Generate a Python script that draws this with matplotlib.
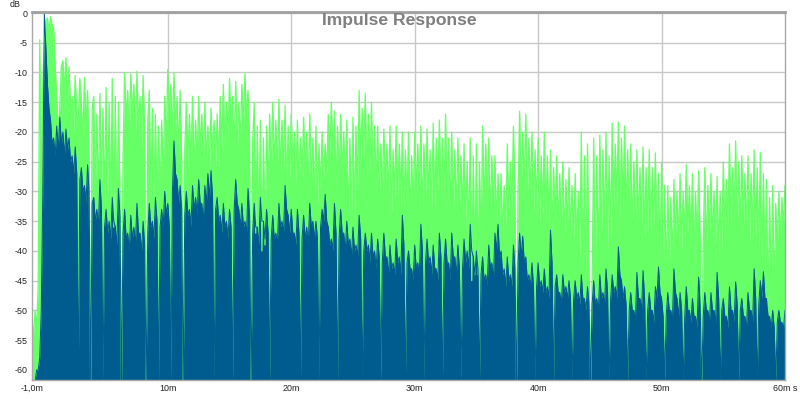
import numpy as np
import matplotlib.pyplot as plt

# samples every 0.125 ms from -1.0 ms to 60.0 ms (dB)
t0, dt = -1.0, 0.125

green_db = [
    # -1 .. 4 ms
    -52, -54, -50, -53, -46, -4.5, -30, -12, -5, -1.5, -0.8, -3, -0.6, -2, -2.5, -9, -14, -20, -16, -9,
    -8, -13, -7.5, -15, -9, -16, -14, -20, -10.5, -17, -18, -11, -15.5, -21, -10.8, -19, -13, -24, -62, -16,
    # 4 .. 9 ms
    -14, -30, -17, -32, -13.5, -29, -16, -33, -12.5, -31, -15, -34, -11, -36, -14, -38, -15, -30, -62, -24,
    -10, -18, -13, -21, -10.2, -17, -12, -22, -9.8, -19, -14, -23, -10.5, -20, -62, -18, -13, -31, -16, -32,
    # 9 .. 14 ms
    -17, -33, -19, -31, -18, -28, -14, -22, -9.5, -17, -12, -21, -10, -20, -14, -24, -13, -25, -62, -23,
    -15, -25, -17, -26, -14, -27, -18, -25, -14, -23, -17, -26, -15, -25, -19, -27, -16, -24, -18, -26,
    # 14 .. 19 ms
    -17, -26, -14, -23, -12, -22, -15, -21, -11, -20, -14, -23, -11.5, -24, -15, -22, -12, -19, -10.1, -18,
    -13, -21, -62, -22, -15, -37, -19, -38, -18, -40, -21, -39, -19, -30, -17, -28, -15, -26, -18, -27,
    # 19 .. 24 ms
    -14.5, -28, -18, -27, -15.5, -30, -19, -28, -17, -26, -20, -29, -18, -31, -21, -28, -17.5, -27, -20, -30,
    -17, -29, -21, -31, -19, -33, -22, -30, -20, -28, -22, -27, -17, -24, -15, -25, -16.5, -30, -19, -28,
    # 24 .. 29 ms
    -17, -27, -20, -29, -18, -36, -21, -35, -17.5, -35, -19, -30, -13, -25, -16, -24, -13.5, -28, -17, -27,
    -15, -30, -19, -29, -19, -33, -22, -30, -19.5, -29, -22, -31, -19, -34, -23, -31, -19, -31, -22, -32,
    # 29 .. 34 ms
    -20, -33, -23, -32, -20, -35, -24, -33, -20, -30, -22, -31, -19, -34, -22, -32, -19.5, -31, -23, -33,
    -18.5, -33, -21, -30, -18, -30, -21, -31, -17, -32, -21, -33, -20, -35, -23, -34, -21, -33, -24, -34,
    # 34 .. 39 ms
    -22, -36, -25, -38, -21, -45, -24, -44, -22, -44, -25, -40, -19, -33, -22, -32, -21, -35, -24, -33,
    -24, -36, -27, -35, -27, -38, -29, -36, -22, -34, -25, -33, -19, -31, -62, -30, -16.5, -30, -20, -29,
    # 39 .. 44 ms
    -17, -32, -21, -31, -20, -34, -23, -33, -21, -36, -24, -34, -20, -35, -24, -36, -23, -37, -26, -35,
    -24, -36, -27, -37, -25, -38, -28, -36, -26, -37, -29, -38, -27, -39, -30, -41, -20, -45, -24, -44,
    # 44 .. 49 ms
    -22, -44, -62, -45, -21, -45, -24, -43, -20.5, -38, -23, -37, -20, -40, -24, -38, -18.5, -33, -22, -32,
    -18.3, -35, -21, -33, -19, -34, -23, -35, -22, -37, -25, -36, -23, -36, -26, -35, -22.5, -38, -26, -37,
    # 49 .. 54 ms
    -23, -37, -26, -36, -23.5, -40, -27, -42, -25, -46, -29, -45, -29, -44, -31, -42, -28, -38, -30, -39,
    -27, -40, -30, -38, -25.5, -37, -29, -38, -27, -41, -30, -39, -26.5, -38, -62, -39, -26, -40, -29, -38,
    # 54 .. 59 ms
    -27, -38, -30, -39, -27.5, -41, -30, -40, -25, -37, -28, -36, -22, -36, -26, -35, -21.5, -38, -25, -36,
    -24, -37, -27, -36, -24, -39, -27, -37, -23, -38, -26, -40, -23.5, -42, -27, -44, -28, -50, -31, -48,
    # 59 .. 60 ms
    -29, -48, -32, -40, -30, -38, -31, -36, -29,
]

blue_db = [
    # -1 .. 4 ms
    -62, -62, -62, -60, -60, -58, -50, -30, 0, -6, -12, -16, -18, -22, -21, -24, -19, -23, -17.5, -22,
    -20, -24, -19.5, -23, -21, -25, -24, -27, -22.5, -27, -62, -28, -26, -30, -29, -32, -25.5, -30, -62, -32,
    # 4 .. 9 ms
    -31, -35, -33, -36, -28, -33, -62, -36, -33, -37, -35, -38, -31, -35, -36, -39, -29.5, -34, -62, -37,
    -33, -38, -37, -40, -34, -38, -36, -39, -32, -37, -37, -40, -35, -39, -62, -37, -32, -36, -35, -38,
    # 9 .. 14 ms
    -31, -35, -62, -36, -33, -36, -30, -34, -32, -36, -62, -30, -21.5, -27, -28, -32, -29, -33, -62, -34,
    -30, -34, -33, -36, -29, -33, -31, -34, -28, -32, -32, -35, -29, -32, -27, -31, -26.5, -31, -62, -33,
    # 14 .. 19 ms
    -31, -35, -34, -37, -32, -36, -35, -38, -33, -36, -62, -33, -28, -32, -33, -36, -32, -36, -35, -37,
    -29.5, -34, -62, -37, -32, -36, -36, -39, -31, -35, -35, -38, -33, -37, -62, -38, -34, -38, -37, -39,
    # 19 .. 24 ms
    -32, -36, -35, -37, -29, -33, -34, -37, -33, -37, -37, -39, -33, -37, -62, -38, -34, -38, -36, -39,
    -32, -36, -35, -38, -35, -38, -62, -36, -33, -35, -30.5, -35, -36, -39, -38, -40, -32, -37, -62, -38,
    # 24 .. 29 ms
    -33, -37, -37, -40, -35, -39, -38, -41, -36, -40, -39, -41, -34, -38, -62, -40, -37, -40, -39, -42,
    -37, -41, -40, -43, -38, -41, -62, -42, -37, -41, -41, -44, -39, -43, -42, -44, -38, -42, -41, -44,
    # 29 .. 34 ms
    -34, -39, -62, -42, -40, -43, -43, -45, -39, -43, -42, -44, -35.5, -40, -62, -42, -38, -42, -41, -44,
    -39, -43, -43, -45, -37, -41, -62, -42, -38, -42, -42, -45, -37, -41, -41, -44, -39, -43, -62, -43,
    # 34 .. 39 ms
    -38, -42, -40, -43, -35.5, -40, -41, -44, -40, -43, -62, -44, -41, -45, -44, -46, -39, -43, -42, -45,
    -37, -40, -35.5, -41, -40, -44, -43, -46, -41, -45, -44, -46, -39, -43, -62, -42, -37, -41, -37.5, -42,
    # 39 .. 44 ms
    -41, -45, -44, -46, -42, -46, -62, -46, -42, -46, -45, -47, -43, -47, -46, -48, -36.5, -42, -62, -46,
    -44, -47, -47, -49, -44, -47, -46, -48, -45, -48, -62, -48, -45, -48, -47, -49, -44, -48, -48, -50,
    # 44 .. 49 ms
    -46, -49, -62, -49, -45, -49, -48, -50, -44, -48, -47, -49, -43, -47, -62, -48, -44, -47, -46, -48,
    -39.3, -44, -45, -48, -46, -49, -62, -50, -47, -50, -50, -52, -43.6, -48, -48, -50, -43.3, -48, -62, -50,
    # 49 .. 54 ms
    -47, -50, -50, -52, -46, -48, -42.7, -47, -48, -51, -62, -51, -47, -50, -50, -52, -43, -47, -48, -51,
    -47, -50, -62, -51, -46, -50, -50, -52, -48, -51, -51, -53, -44.4, -49, -62, -51, -47, -50, -50, -52,
    # 54 .. 59 ms
    -47, -50, -50, -52, -43.6, -48, -62, -50, -48, -51, -51, -53, -46, -50, -50, -52, -45.2, -49, -62, -50,
    -48, -51, -51, -53, -47, -50, -50, -52, -43, -48, -62, -49, -45, -48, -43.5, -48, -48, -51, -51, -53,
    # 59 .. 60 ms
    -50, -53, -62, -52, -50, -52, -52, -53, -50,
]

y_ticks = list(range(-60, 1, 5))
x_ticks = [-1, 10, 20, 30, 40, 50, 60]
x_labels = ['-1,0m', '10m', '20m', '30m', '40m', '50m', '60m s']

green = '#66ff66'
blue = '#005b8f'
floor = -61.7

t = t0 + dt * np.arange(len(green_db))

fig = plt.figure(figsize=(8, 3.99), dpi=100)
ax = fig.add_axes([32 / 800, 19 / 399, 753 / 800, 368 / 399])

ax.fill_between(t, green_db, floor, color=green, lw=0)
ax.plot(t, green_db, color=green, lw=0.9)
ax.fill_between(t, blue_db, floor, color=blue, lw=0)
ax.plot(t, blue_db, color=blue, lw=0.7)

ax.set_xlim(-1, 60)
ax.set_ylim(floor, 0.17)

for y in y_ticks:
    ax.axhline(y, color='#c8c8c8', lw=1, zorder=0)
for x in x_ticks[1:-1]:
    ax.axvline(x, color='#c8c8c8', lw=1, zorder=0)

ax.set_yticks(y_ticks)
ax.set_yticklabels([str(v) for v in y_ticks])
ax.set_xticks(x_ticks)
ax.set_xticklabels(x_labels)
ax.tick_params(length=0, labelsize=6.4, pad=3, colors='#202020')
for lab in ax.get_xticklabels() + ax.get_yticklabels():
    lab.set_family('Liberation Sans')

for side in ['left', 'right', 'bottom']:
    ax.spines[side].set_color('#a8a8a8')
    ax.spines[side].set_linewidth(1)
ax.spines['top'].set_color('#a0a0a0')
ax.spines['top'].set_linewidth(2)

fig.text(399 / 800, 1 - 21 / 399, 'Impulse Response', ha='center', va='center',
         fontsize=12.6, fontweight='bold', color='#7f7f7f', family='Liberation Sans')
fig.text(15 / 800, 1 - 4.5 / 399, 'dB', ha='center', va='center',
         fontsize=6.4, color='#202020', family='Liberation Sans')

fig.savefig('out.png', dpi=100)
